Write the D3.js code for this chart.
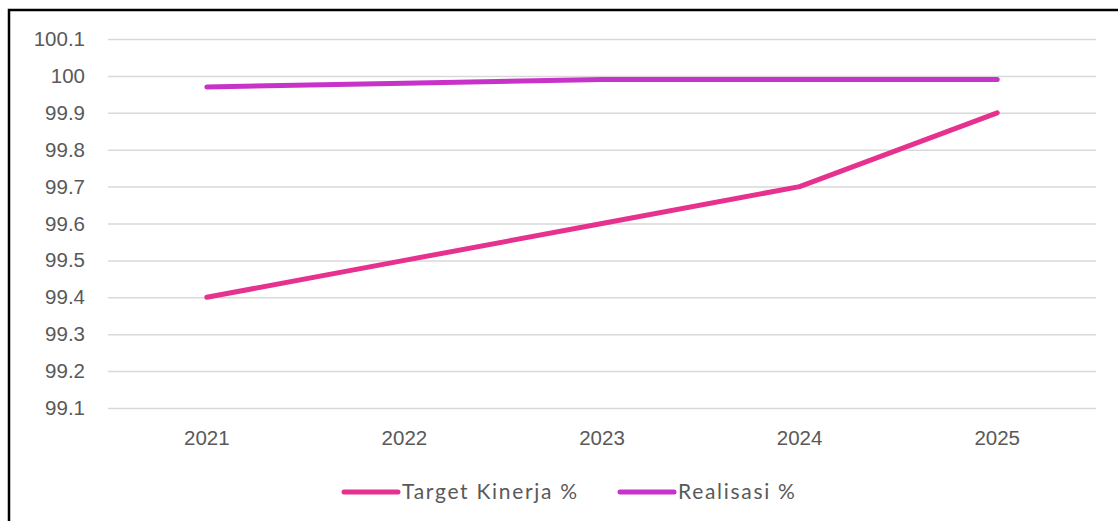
<!DOCTYPE html>
<html>
<head>
<meta charset="utf-8">
<script src="https://d3js.org/d3.v7.min.js"></script>
<style>
  body { margin: 0; padding: 0; background: #fff; }
  svg { display: block; font-family: "Lato", "Open Sans", sans-serif; }
  .grid line { stroke: #d9d9d9; stroke-width: 1.5; }
  .grid path { stroke: none; }
  .tick text { fill: #595959; font-size: 20.5px; }
  .legend text { fill: #595959; font-size: 21px; letter-spacing: 1.7px; }
</style>
</head>
<body>
<div id="chart"></div>
<script>
  var years = ["2021", "2022", "2023", "2024", "2025"];
  var target = [99.4, 99.5, 99.6, 99.7, 99.9];
  var realisasi = [99.97, 99.98, 99.99, 99.99, 99.99];
  var yTicks = [99.1, 99.2, 99.3, 99.4, 99.5, 99.6, 99.7, 99.8, 99.9, 100, 100.1];
  var seriesNames = ["Target Kinerja %", "Realisasi %"];
  var colors = ["#e6318f", "#c733c9"];

  var W = 1118, H = 521;
  var margin = {top: 39, left: 108, right: 22};
  var width = W - margin.left - margin.right,
      plotH = 369; // 100.1 -> 99.1 gridlines

  var svg = d3.select("#chart").append("svg")
    .attr("width", W)
    .attr("height", H);

  // frame (only top and left visible)
  svg.append("path")
    .attr("d", "M9,521 L9,10 L1118,10")
    .attr("fill", "none")
    .attr("stroke", "#000")
    .attr("stroke-width", 2.5);

  var g = svg.append("g")
    .attr("transform", "translate(" + margin.left + "," + margin.top + ")");

  var x = d3.scaleBand().domain(years).range([0, width]);
  var y = d3.scaleLinear().domain([99.1, 100.1]).range([plotH, 0]);

  g.append("g")
    .attr("class", "grid")
    .call(d3.axisLeft(y).tickValues(yTicks).tickSize(-width).tickPadding(23)
      .tickFormat(function(d) { return +d.toFixed(1); }));

  g.append("g")
    .attr("class", "xaxis")
    .attr("transform", "translate(0," + plotH + ")")
    .call(d3.axisBottom(x).tickSize(0).tickPadding(22))
    .call(function(a) { a.select(".domain").remove(); });

  var line = d3.line()
    .x(function(d, i) { return x(years[i]) + x.bandwidth() / 2; })
    .y(function(d) { return y(d); });

  [target, realisasi].forEach(function(s, k) {
    g.append("path")
      .datum(s)
      .attr("d", line)
      .attr("fill", "none")
      .attr("stroke", colors[k])
      .attr("stroke-width", 5)
      .attr("stroke-linecap", "round")
      .attr("stroke-linejoin", "round");
  });

  // legend
  var legend = svg.append("g").attr("class", "legend");
  var lx = [344, 620];
  seriesNames.forEach(function(n, k) {
    var it = legend.append("g").attr("transform", "translate(" + lx[k] + ",492)");
    it.append("line")
      .attr("x1", 0).attr("x2", 54)
      .attr("stroke", colors[k])
      .attr("stroke-width", 5)
      .attr("stroke-linecap", "round");
    it.append("text")
      .attr("x", 58)
      .attr("dy", "0.35em")
      .text(n);
  });
</script>
</body>
</html>
